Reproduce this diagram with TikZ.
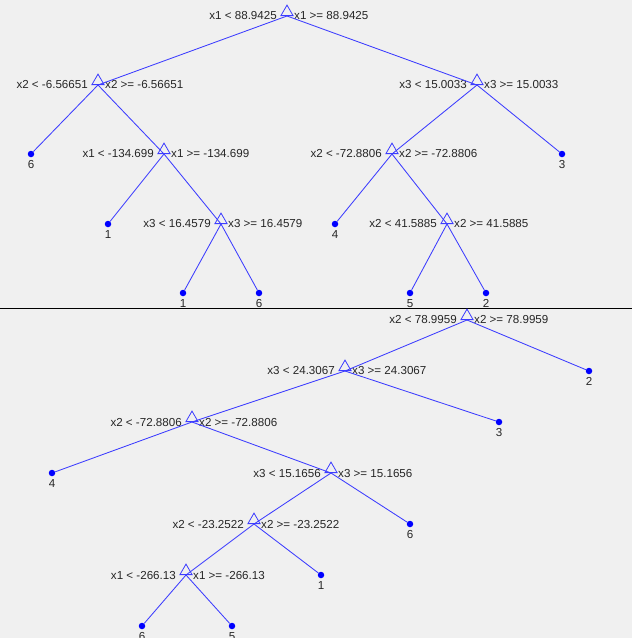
\documentclass[tikz,border=0pt]{standalone}
\usepackage{fontspec}
\setmainfont{Liberation Sans}
\usepackage{xcolor}
\usetikzlibrary{positioning}
\usetikzlibrary{shapes.geometric}
\definecolor{bgray}{HTML}{F0F0F0}
\definecolor{tline}{RGB}{60,60,255}
\definecolor{ttext}{HTML}{262626}
\tikzstyle{split} = [regular polygon, regular polygon sides=3, draw=tline, line width=0.8pt, minimum size=14pt, inner sep=0pt, anchor=side 2]
\tikzstyle{leaf} = [circle, fill=blue, inner sep=0pt, minimum size=6.5pt]
\tikzstyle{cond} = [inner sep=0pt, text=ttext, font=\fontsize{11.6}{13}\selectfont]
\tikzstyle{edge} = [draw=tline, line width=0.85pt]

\begin{document}
\begin{tikzpicture}[x=1pt, y=-1pt]

% Background
\fill [bgray] (0,0) rectangle (632,638);
\useasboundingbox (0,0) rectangle (632,638);
\draw [black, line width=0.9pt] (0,308) -- (632,308);

% Upper tree: splits
\coordinate (R) at (287,16);
\node (Rt) [split] at (R) {};
\node (Rl) [cond, left=10pt of R] {x1 < 88.9425};
\node (Rr) [cond, right=7pt of R] {x1 >= 88.9425};

\coordinate (A) at (98,85);
\node (At) [split] at (A) {};
\node (Al) [cond, left=10pt of A] {x2 < -6.56651};
\node (Ar) [cond, right=7pt of A] {x2 >= -6.56651};

\coordinate (B) at (477,85);
\node (Bt) [split] at (B) {};
\node (Bl) [cond, left=10pt of B] {x3 < 15.0033};
\node (Br) [cond, right=7pt of B] {x3 >= 15.0033};

\coordinate (C) at (164,154);
\node (Ct) [split] at (C) {};
\node (Cl) [cond, left=10pt of C] {x1 < -134.699};
\node (Cr) [cond, right=7pt of C] {x1 >= -134.699};

\coordinate (D) at (392,154);
\node (Dt) [split] at (D) {};
\node (Dl) [cond, left=10pt of D] {x2 < -72.8806};
\node (Dr) [cond, right=7pt of D] {x2 >= -72.8806};

\coordinate (E) at (221,224);
\node (Et) [split] at (E) {};
\node (El) [cond, left=10pt of E] {x3 < 16.4579};
\node (Er) [cond, right=7pt of E] {x3 >= 16.4579};

\coordinate (F) at (447,224);
\node (Ft) [split] at (F) {};
\node (Fl) [cond, left=10pt of F] {x2 < 41.5885};
\node (Fr) [cond, right=7pt of F] {x2 >= 41.5885};

% Upper tree: leaves
\node (t1) [leaf] at (31,154) {};
\node [cond, below=6pt of t1.center] {6};
\node (t2) [leaf] at (562,154) {};
\node [cond, below=6pt of t2.center] {3};
\node (t3) [leaf] at (108,224) {};
\node [cond, below=6pt of t3.center] {1};
\node (t4) [leaf] at (335,224) {};
\node [cond, below=6pt of t4.center] {4};
\node (t5) [leaf] at (183,293) {};
\node [cond, below=6pt of t5.center] {1};
\node (t6) [leaf] at (259,293) {};
\node [cond, below=6pt of t6.center] {6};
\node (t7) [leaf] at (410,293) {};
\node [cond, below=6pt of t7.center] {5};
\node (t8) [leaf] at (486,293) {};
\node [cond, below=6pt of t8.center] {2};

% Upper tree: edges
\draw [edge] (R) -- (A);
\draw [edge] (R) -- (B);
\draw [edge] (A) -- (t1);
\draw [edge] (A) -- (C);
\draw [edge] (C) -- (t3);
\draw [edge] (C) -- (E);
\draw [edge] (E) -- (t5);
\draw [edge] (E) -- (t6);
\draw [edge] (B) -- (D);
\draw [edge] (B) -- (t2);
\draw [edge] (D) -- (t4);
\draw [edge] (D) -- (F);
\draw [edge] (F) -- (t7);
\draw [edge] (F) -- (t8);

% Lower tree: splits
\coordinate (G) at (467,320);
\node (Gt) [split] at (G) {};
\node (Gl) [cond, left=10pt of G] {x2 < 78.9959};
\node (Gr) [cond, right=7pt of G] {x2 >= 78.9959};

\coordinate (H) at (345,371);
\node (Ht) [split] at (H) {};
\node (Hl) [cond, left=10pt of H] {x3 < 24.3067};
\node (Hr) [cond, right=7pt of H] {x3 >= 24.3067};

\coordinate (I) at (192,422);
\node (It) [split] at (I) {};
\node (Il) [cond, left=10pt of I] {x2 < -72.8806};
\node (Ir) [cond, right=7pt of I] {x2 >= -72.8806};

\coordinate (J) at (331,473);
\node (Jt) [split] at (J) {};
\node (Jl) [cond, left=10pt of J] {x3 < 15.1656};
\node (Jr) [cond, right=7pt of J] {x3 >= 15.1656};

\coordinate (K) at (254,524);
\node (Kt) [split] at (K) {};
\node (Kl) [cond, left=10pt of K] {x2 < -23.2522};
\node (Kr) [cond, right=7pt of K] {x2 >= -23.2522};

\coordinate (L) at (186,575);
\node (Lt) [split] at (L) {};
\node (Ll) [cond, left=10pt of L] {x1 < -266.13};
\node (Lr) [cond, right=7pt of L] {x1 >= -266.13};

% Lower tree: leaves
\node (b1) [leaf] at (589,371) {};
\node [cond, below=6pt of b1.center] {2};
\node (b2) [leaf] at (499,422) {};
\node [cond, below=6pt of b2.center] {3};
\node (b3) [leaf] at (52,473) {};
\node [cond, below=6pt of b3.center] {4};
\node (b4) [leaf] at (410,524) {};
\node [cond, below=6pt of b4.center] {6};
\node (b5) [leaf] at (321,575) {};
\node [cond, below=6pt of b5.center] {1};
\node (b6) [leaf] at (142,626) {};
\node [cond, below=6pt of b6.center] {6};
\node (b7) [leaf] at (232,626) {};
\node [cond, below=6pt of b7.center] {5};

% Lower tree: edges
\draw [edge] (G) -- (H);
\draw [edge] (G) -- (b1);
\draw [edge] (H) -- (I);
\draw [edge] (H) -- (b2);
\draw [edge] (I) -- (b3);
\draw [edge] (I) -- (J);
\draw [edge] (J) -- (K);
\draw [edge] (J) -- (b4);
\draw [edge] (K) -- (L);
\draw [edge] (K) -- (b5);
\draw [edge] (L) -- (b6);
\draw [edge] (L) -- (b7);

\end{tikzpicture}
\end{document}
